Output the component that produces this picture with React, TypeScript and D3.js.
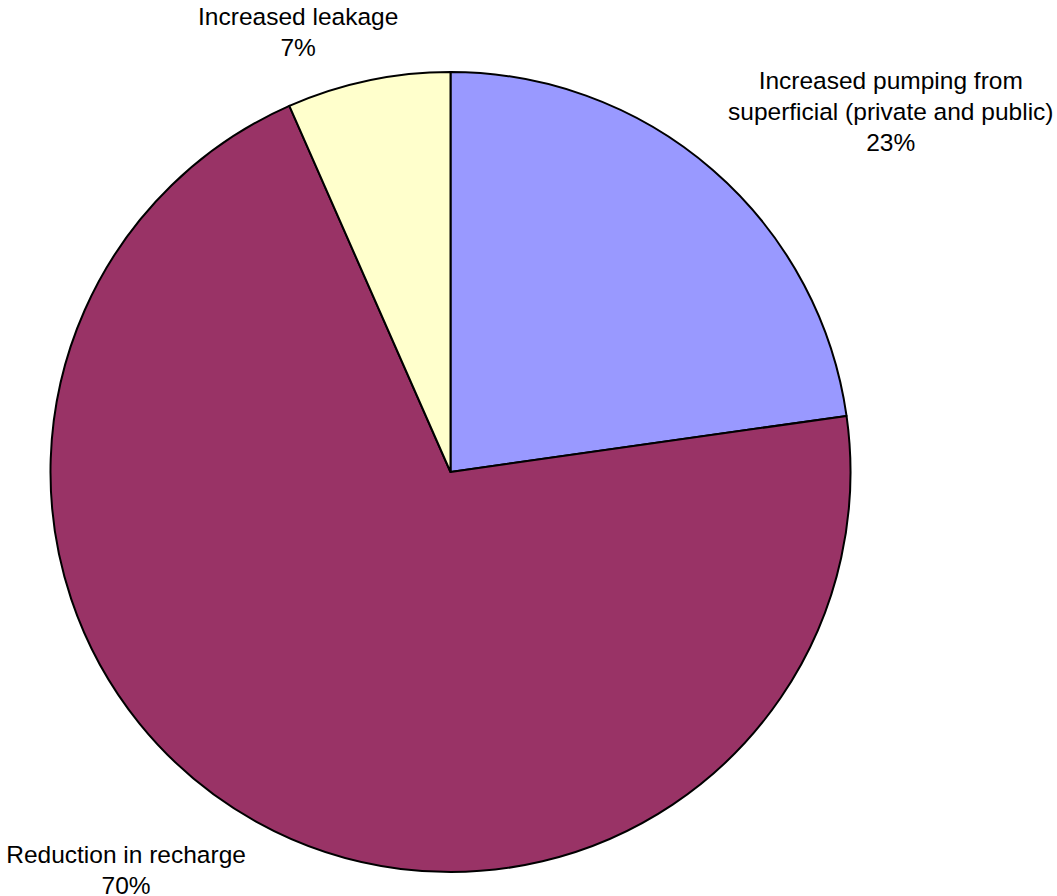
import React from "react";
import * as d3 from "d3";

const categories = [
  "Increased pumping from\nsuperficial (private and public)",
  "Reduction in recharge",
  "Increased leakage",
];
const values = [22.76, 70.64, 6.6];
const pctLabels = ["23%", "70%", "7%"];
const colors = ["#9999FF", "#993366", "#FFFFCC"];
// label offsets from the slice's outer-arc midpoint
const labelOffsets: [number, number][] = [
  [178, -81],
  [-130, 41.5],
  [-70, -56],
];

export default function App() {
  const W = 1057, H = 896;
  const cx = 450.5, cy = 472, r = 400;
  const pie = d3.pie<number>().sort(null).startAngle(0).endAngle(2 * Math.PI);
  const arcs = pie(values);
  const arcGen = d3.arc<d3.PieArcDatum<number>>().innerRadius(0).outerRadius(r);
  const fontSize = 24.5;
  const lineH = 31;
  return (
    <svg width={W} height={H} style={{ position: "absolute", left: 0, top: 0, background: "#fff" }}>
      <g transform={`translate(${cx},${cy})`}>
        {arcs.map((a, i) => (
          <path key={i} d={arcGen(a) || ""} fill={colors[i]} stroke="#000" strokeWidth={2} strokeLinejoin="round" />
        ))}
        {arcs.map((a, i) => {
          const mid = (a.startAngle + a.endAngle) / 2;
          const px = Math.sin(mid) * r + labelOffsets[i][0];
          const py = -Math.cos(mid) * r + labelOffsets[i][1];
          const lines = [...categories[i].split("\n"), pctLabels[i]];
          return (
            <text key={i} x={px} y={py} textAnchor="middle" fontFamily="Liberation Sans, Arial, sans-serif" fontSize={fontSize} fill="#000">
              {lines.map((l, j) => (
                <tspan key={j} x={px} dy={j === 0 ? 0 : lineH}>{l}</tspan>
              ))}
            </text>
          );
        })}
      </g>
    </svg>
  );
}
